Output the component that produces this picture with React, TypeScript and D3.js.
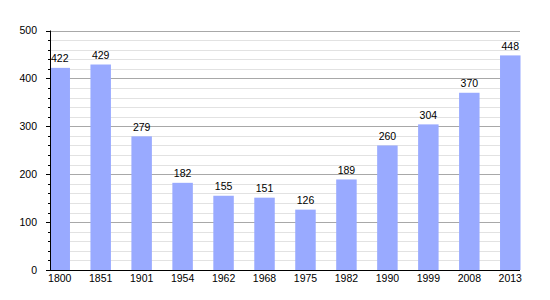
import React from "react";
import * as d3 from "d3";

const years = ["1800", "1851", "1901", "1954", "1962", "1968", "1975", "1982", "1990", "1999", "2008", "2013"];
const population = [422, 429, 279, 182, 155, 151, 126, 189, 260, 304, 370, 448];
const yTicks = [0, 100, 200, 300, 400, 500];
const yMinorTicks = d3.range(0, 501, 20);

const W = 550;
const H = 300;
const plotLeft = 50;
const plotRight = 520;
const plotTop = 30.5;
const plotBottom = 270;

export default function App() {
  const x = d3
    .scaleBand<string>()
    .domain(years)
    .range([39.25, 530.75])
    .paddingInner(0.5)
    .paddingOuter(0.25);
  const y = d3.scaleLinear().domain([0, 500]).range([plotBottom, plotTop]);
  const font = "'Liberation Sans', Arial, sans-serif";

  return (
    <svg width={W} height={H} style={{ position: "absolute", left: 0, top: 0, background: "#fff" }} fontFamily={font}>
      <defs>
        <clipPath id="plotClip">
          <rect x={plotLeft} y={0} width={plotRight - plotLeft + 2} height={plotBottom} />
        </clipPath>
      </defs>
      {/* minor gridlines */}
      {yMinorTicks.filter((t) => t % 100 !== 0).map((t) => (
        <line key={"mg" + t} x1={plotLeft} x2={plotRight} y1={Math.round(y(t)) + 0.5} y2={Math.round(y(t)) + 0.5} stroke="#e2e2e2" strokeWidth={1} />
      ))}
      {/* major gridlines */}
      {yTicks.filter((t) => t > 0).map((t) => (
        <line key={"g" + t} x1={plotLeft} x2={plotRight} y1={Math.round(y(t)) + 0.5} y2={Math.round(y(t)) + 0.5} stroke="#a8a8a8" strokeWidth={1} />
      ))}
      {/* bars */}
      <g clipPath="url(#plotClip)">
        {years.map((yr, i) => (
          <rect key={yr} x={x(yr)!} y={y(population[i])} width={x.bandwidth()} height={plotBottom - y(population[i])} fill="#99aaff" />
        ))}
      </g>
      {/* value labels */}
      {years.map((yr, i) => (
        <text key={"v" + yr} x={x(yr)! + x.bandwidth() / 2} y={y(population[i]) - 5.5} textAnchor="middle" fontSize={10.5} fill="#000">
          {population[i]}
        </text>
      ))}
      {/* y axis */}
      <line x1={plotLeft + 0.5} x2={plotLeft + 0.5} y1={plotTop} y2={plotBottom} stroke="#000" strokeWidth={1} />
      {yMinorTicks.map((t) => (
        <line key={"mt" + t} x1={t % 100 === 0 ? plotLeft - 4 : plotLeft - 2} x2={plotLeft} y1={Math.round(y(t)) + 0.5} y2={Math.round(y(t)) + 0.5} stroke="#000" strokeWidth={1} />
      ))}
      {yTicks.map((t) => (
        <text key={"yl" + t} x={37} y={y(t)} dy="0.35em" textAnchor="end" fontSize={10.5} fill="#000">
          {t}
        </text>
      ))}
      {/* x axis */}
      <line x1={plotLeft} x2={plotRight} y1={plotBottom + 0.5} y2={plotBottom + 0.5} stroke="#000" strokeWidth={1} />
      {years.map((yr) => (
        <text key={"xl" + yr} x={x(yr)! + x.bandwidth() / 2} y={281.5} textAnchor="middle" fontSize={10.5} fill="#000">
          {yr}
        </text>
      ))}
    </svg>
  );
}
